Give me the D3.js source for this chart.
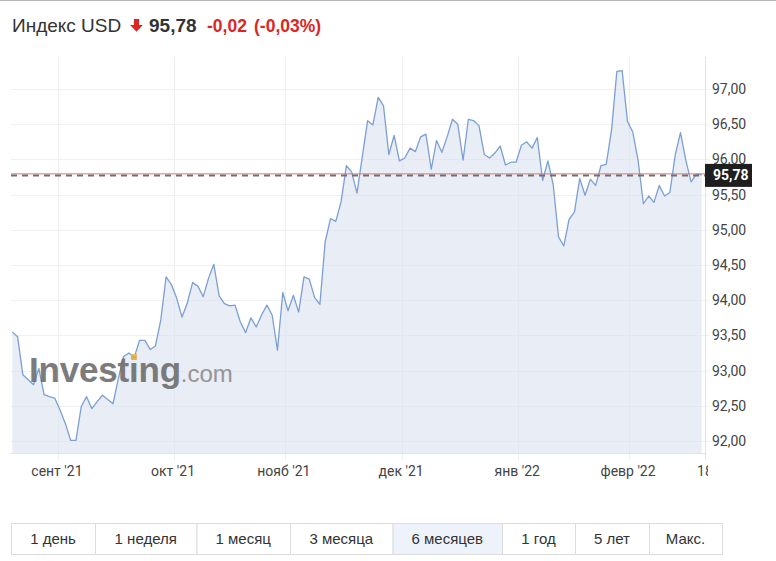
<!DOCTYPE html>
<html><head><meta charset="utf-8">
<script src="https://cdn.jsdelivr.net/npm/d3@7"></script>
<style>
html,body{margin:0;padding:0;background:#fff;}
svg{display:block;}
</style></head><body>
<svg id="c" width="776" height="561"></svg>
<script>
// ---- data ----
const title = "Индекс USD";
const lastPrice = 95.78;
const changeAbs = -0.02;
const changePct = -0.03;
const values = [
  93.55,93.48,92.94,92.87,92.80,93.03,92.66,92.63,92.61,92.44,
  92.25,92.01,92.01,92.49,92.63,92.46,92.56,92.65,92.59,92.53,
  92.89,93.20,93.25,93.19,93.43,93.43,93.30,93.35,93.72,94.33,
  94.22,94.03,93.76,93.96,94.25,94.20,94.05,94.31,94.51,94.06,
  93.95,93.92,93.93,93.69,93.54,93.75,93.62,93.79,93.93,93.79,
  93.29,94.11,93.85,94.07,93.83,94.33,94.30,94.04,93.94,94.83,
  95.16,95.12,95.40,95.91,95.82,95.52,96.04,96.55,96.49,96.88,
  96.76,96.07,96.34,95.98,96.02,96.16,96.11,96.32,96.36,95.86,
  96.27,96.10,96.32,96.57,96.50,95.99,96.57,96.55,96.48,96.07,
  96.02,96.09,96.19,95.92,95.96,95.96,96.20,96.25,96.16,96.31,
  95.70,95.98,95.64,94.90,94.77,95.15,95.25,95.73,95.49,95.72,
  95.63,95.91,95.93,96.42,97.25,97.26,96.54,96.39,95.99,95.37,
  95.48,95.39,95.63,95.48,95.53,96.06,96.38,95.99,95.68,95.79,
  95.78
];
const yTickValues = [92,92.5,93,93.5,94,94.5,95,95.5,96,96.5,97];
const xTickIndex = [8.6,30.5,51.4,73.5,95.4,116.3,129.7];
const xTickLabels = ["сент '21","окт '21","нояб '21","дек '21","янв '22","февр '22","18"];
const rangeLabels = ["1 день","1 неделя","1 месяц","3 месяца","6 месяцев","1 год","5 лет","Макс."];
const activeRange = "6 месяцев";

// ---- layout ----
const L = 11, R = 705, T = 57, B = 453;
const svg = d3.select("#c");
const loc = d3.formatLocale({decimal: ",", thousands: " ", grouping: [3], currency: ["", ""], minus: "-"});
const f2 = loc.format(".2f");

const x = d3.scaleLinear().domain([0, values.length - 1]).range([12.3, 701.7]);
const y = d3.scaleLinear().domain([92, 97]).range([441, 89]);

// top rule
svg.append("line").attr("x1",0).attr("x2",776).attr("y1",0.5).attr("y2",0.5)
  .attr("stroke","#b5b5b5").attr("stroke-width",1);

// header
const red = "#dc2626";
const font = "'Liberation Sans', Arial, sans-serif";
svg.append("text").attr("x",12).attr("y",32)
  .attr("font-family",font).attr("font-size",19).attr("fill","#333").text(title);
const ax = 136.5, ay = 19;
svg.append("path")
  .attr("d",`M${ax-2.6},${ay} h5.2 v6 h3.8 l-6.4,6.8 l-6.4,-6.8 h3.8 z`)
  .attr("fill",red);
svg.append("text").attr("x",149).attr("y",32)
  .attr("font-family",font).attr("font-size",19)
  .attr("font-weight","bold").attr("fill","#333").text(f2(lastPrice));
svg.append("text").attr("x",207).attr("y",32)
  .attr("font-family",font).attr("font-size",17.5)
  .attr("font-weight","bold").attr("fill",red).text(f2(changeAbs));
svg.append("text").attr("x",254).attr("y",32)
  .attr("font-family",font).attr("font-size",17.5)
  .attr("font-weight","bold").attr("fill",red).text("(" + f2(changePct) + "%)");

// clip
const defs = svg.append("defs");
defs.append("clipPath").attr("id","pc")
  .append("rect").attr("x",L).attr("y",T).attr("width",R-L).attr("height",B-T);

// horizontal grid
svg.append("g").selectAll("line").data(yTickValues).join("line")
  .attr("x1",L).attr("x2",R+5).attr("y1",d=>Math.round(y(d))+0.5).attr("y2",d=>Math.round(y(d))+0.5)
  .attr("stroke","#f0f0f0");
// vertical grid
svg.append("g").selectAll("line").data(xTickIndex.slice(0,-1)).join("line")
  .attr("x1",d=>Math.round(x(d))+0.5).attr("x2",d=>Math.round(x(d))+0.5)
  .attr("y1",T).attr("y2",460).attr("stroke","#eeeeee");

// area + line
const area = d3.area().x((d,i)=>x(i)).y0(B).y1(d=>y(d));
const line = d3.line().x((d,i)=>x(i)).y(d=>y(d));
const pg = svg.append("g").attr("clip-path","url(#pc)");
pg.append("path").datum(values).attr("d",area).attr("fill","#dbe2ef").attr("fill-opacity",0.62);
pg.append("path").datum(values).attr("d",line).attr("fill","none")
  .attr("stroke","#7b9fd5").attr("stroke-width",1.3).attr("stroke-linejoin","round");

// plot borders
svg.append("line").attr("x1",L).attr("x2",R).attr("y1",B+0.5).attr("y2",B+0.5).attr("stroke","#dfe3ea");
svg.append("line").attr("x1",R+0.5).attr("x2",R+0.5).attr("y1",T).attr("y2",460).attr("stroke","#e3e3e3");

// watermark
const wm = svg.append("text").attr("x",29).attr("y",382)
  .attr("font-family",font).attr("opacity",0.9);
wm.append("tspan").attr("font-size",35).attr("font-weight","bold").attr("fill","#6e6e6e")
  .attr("letter-spacing",-0.2).text("Investing");
wm.append("tspan").attr("font-size",24).attr("fill","#8c8c8c").text(".com");
svg.append("rect").attr("x",131).attr("y",354).attr("width",6).attr("height",6)
  .attr("fill","#f0b44a").attr("opacity",0.85);

// current value lines
const yc = y(lastPrice);
svg.append("line").attr("x1",L).attr("x2",R).attr("y1",yc-1).attr("y2",yc-1)
  .attr("stroke","#e57373").attr("stroke-width",1);
svg.append("line").attr("x1",L).attr("x2",R).attr("y1",yc+0.5).attr("y2",yc+0.5)
  .attr("stroke","#707070").attr("stroke-width",2).attr("stroke-dasharray","6,5");

// y labels
svg.append("g").selectAll("text").data(yTickValues).join("text")
  .attr("x",712).attr("y",d=>y(d)).attr("dy","0.36em")
  .attr("font-family","Roboto, sans-serif").attr("font-size",14).attr("fill","#444")
  .text(d=>f2(d));

// current value tag
svg.append("rect").attr("x",R).attr("y",yc-11).attr("width",47).attr("height",23).attr("fill","#1e1e1e");
svg.append("text").attr("x",713).attr("y",yc).attr("dy","0.36em")
  .attr("font-family","Roboto, sans-serif").attr("font-size",14).attr("font-weight","bold")
  .attr("fill","#fff").text(f2(lastPrice));

// x labels
defs.append("clipPath").attr("id","xc")
  .append("rect").attr("x",0).attr("y",455).attr("width",708).attr("height",30);
svg.append("g").attr("clip-path","url(#xc)").selectAll("text").data(xTickIndex).join("text")
  .attr("x",(d,i)=> i===xTickIndex.length-1 ? x(d)-3 : x(d)-1)
  .attr("y",476)
  .attr("text-anchor",(d,i)=> i===xTickIndex.length-1 ? "start" : "middle")
  .attr("font-family","Roboto, sans-serif").attr("font-size",14).attr("fill","#444")
  .text((d,i)=>xTickLabels[i]);

// range buttons
const edges = [11,95,196.5,290,392.6,502,575,649,722];
const bg = svg.append("g");
rangeLabels.forEach((lab,i)=>{
  const x0 = edges[i], x1 = edges[i+1];
  bg.append("rect").attr("x",x0+0.5).attr("y",523.5).attr("width",x1-x0).attr("height",31)
    .attr("fill", lab===activeRange ? "#eef3fb" : "#fff").attr("stroke","#dcdcdc");
  bg.append("text").attr("x",(x0+x1)/2).attr("y",539).attr("dy","0.36em").attr("text-anchor","middle")
    .attr("font-family",font).attr("font-size",15).attr("fill","#333")
    .text(lab);
});
</script>
</body></html>
